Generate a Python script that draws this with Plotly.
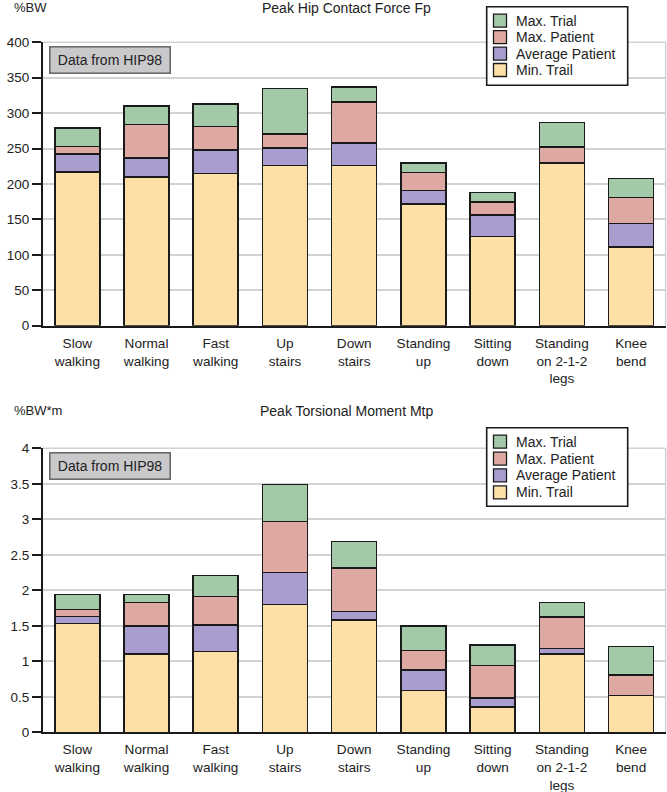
import plotly.graph_objects as go

W, H = 667, 792

categories = ["Slow<br>walking", "Normal<br>walking", "Fast<br>walking", "Up<br>stairs",
              "Down<br>stairs", "Standing<br>up", "Sitting<br>down",
              "Standing<br>on 2-1-2<br>legs", "Knee<br>bend"]

# Peak Hip Contact Force Fp (%BW) - cumulative levels
fp_min_trail = [217, 210, 215, 226, 226, 172, 126, 230, 111]
fp_avg_patient = [242, 237, 248, 251, 258, 191, 156, 230, 144]
fp_max_patient = [253, 284, 281, 271, 316, 216, 175, 252, 181]
fp_max_trial = [279, 310, 313, 335, 337, 230, 188, 287, 208]

# Peak Torsional Moment Mtp (%BW*m) - cumulative levels
mt_min_trail = [1.53, 1.10, 1.14, 1.80, 1.58, 0.59, 0.36, 1.10, 0.52]
mt_avg_patient = [1.63, 1.50, 1.51, 2.25, 1.70, 0.88, 0.48, 1.18, 0.52]
mt_max_patient = [1.73, 1.83, 1.91, 2.97, 2.31, 1.15, 0.94, 1.62, 0.81]
mt_max_trial = [1.94, 1.94, 2.21, 3.49, 2.69, 1.50, 1.23, 1.83, 1.21]

series_names = ["Min. Trail", "Average Patient", "Max. Patient", "Max. Trial"]
colors = ["#fce0a8", "#a99ccf", "#dea9a2", "#a4c9a8"]

FONT = "Liberation Sans, Arial, Helvetica, sans-serif"
TXT = "#222222"
EDGE = "#1a1a1a"

def px(x):
    return x / W

def py(y):
    return 1 - y / H

def diffs(levels):
    out = [levels[0]]
    for i in range(1, len(levels)):
        out.append([max(0, a - b) for a, b in zip(levels[i], levels[i - 1])])
    return out

fig = go.Figure()

x_idx = list(range(len(categories)))

panels = [
    dict(levels=[fp_min_trail, fp_avg_patient, fp_max_patient, fp_max_trial], xa="x", ya="y"),
    dict(levels=[mt_min_trail, mt_avg_patient, mt_max_patient, mt_max_trial], xa="x2", ya="y2"),
]

for p in panels:
    parts = diffs(p["levels"])
    for name, col, vals in zip(series_names, colors, parts):
        fig.add_trace(go.Bar(
            x=x_idx, y=vals, name=name, xaxis=p["xa"], yaxis=p["ya"],
            showlegend=False, width=0.65,
            marker=dict(color=col, line=dict(color=EDGE, width=1.6)),
            hoverinfo="y",
        ))

xdom = [px(42.7), px(665.7)]
top_dom = [py(325.7), py(42.3)]
bot_dom = [py(732.3), py(448.3)]

def xaxis(anchor):
    return dict(domain=xdom, anchor=anchor, range=[-0.5, 8.5], tickmode="array",
                tickvals=x_idx, ticktext=categories, ticks="", automargin=False,
                ticklabelstandoff=4,
                showgrid=False, zeroline=False, showline=True, linecolor=EDGE, linewidth=1.6,
                tickfont=dict(family=FONT, size=13.6, color=TXT))

def yaxis(anchor, dom, rng, dt):
    return dict(domain=dom, anchor=anchor, range=rng, dtick=dt, automargin=False,
                ticks="outside", ticklen=9, tickwidth=1.6, tickcolor=EDGE,
                showgrid=True, gridcolor="#d2d2d2", gridwidth=1.6, zeroline=False,
                showline=True, linecolor=EDGE, linewidth=1.6,
                tickfont=dict(family=FONT, size=13.5, color=TXT))

fig.update_layout(
    width=W, height=H,
    margin=dict(l=0, r=0, t=0, b=0),
    paper_bgcolor="white", plot_bgcolor="white",
    barmode="stack", bargap=0.35,
    font=dict(family=FONT, size=13, color=TXT),
    showlegend=False,
    xaxis=xaxis("y"),
    yaxis=yaxis("x", top_dom, [0, 400], 50),
    xaxis2=xaxis("y2"),
    yaxis2=yaxis("x2", bot_dom, [0, 4], 0.5),
)

shapes = []
annots = []
legend_order = list(zip(series_names, colors))[::-1]
for (y0, y1, leg_top, leg_rows) in [(42.3, 325.7, 6.7, [20.7, 37.2, 53.6, 70.0]),
                                    (448.3, 732.3, 427.7, [441.7, 458.6, 475.4, 492.3])]:
    # grey right border and top border of plot area
    shapes.append(dict(type="line", xref="paper", yref="paper", x0=px(665.7), x1=px(665.7),
                       y0=py(y0), y1=py(y1), line=dict(color="#d2d2d2", width=1.6), layer="below"))
    shapes.append(dict(type="line", xref="paper", yref="paper", x0=px(42.7), x1=px(665.7),
                       y0=py(y0), y1=py(y0), line=dict(color="#d2d2d2", width=1.6), layer="below"))
    # legend box
    shapes.append(dict(type="rect", xref="paper", yref="paper", x0=px(486.7), x1=px(627.7),
                       y0=py(leg_top), y1=py(leg_top + 78.6), fillcolor="white",
                       line=dict(color=EDGE, width=1.6), layer="above"))
    for (name, col), ry in zip(legend_order, leg_rows):
        shapes.append(dict(type="rect", xref="paper", yref="paper", x0=px(493.5), x1=px(506.5),
                           y0=py(ry + 6.5), y1=py(ry - 6.5), fillcolor=col,
                           line=dict(color=EDGE, width=1.3), layer="above"))
        annots.append(dict(xref="paper", yref="paper", x=px(513.5), y=py(ry), xanchor="left",
                           yanchor="middle", text=name, showarrow=False,
                           font=dict(family=FONT, size=14, color=TXT)))

for ybox, unit, title, ty in [(45.7, "%BW", "Peak Hip Contact Force Fp", 7.5),
                              (452.3, "%BW*m", "Peak Torsional Moment Mtp", 410.7)]:
    annots.append(dict(xref="paper", yref="paper", x=px(49), y=py(ybox), xanchor="left", yanchor="top",
                       text="Data from HIP98", showarrow=False, width=117, height=23,
                       bgcolor="#c9c9cb", bordercolor="#6a6a6a", borderwidth=1.6, borderpad=1,
                       font=dict(family=FONT, size=14, color=TXT)))
    annots.append(dict(xref="paper", yref="paper", x=px(11.5), y=py(ty), xanchor="left", yanchor="middle",
                       text=unit, showarrow=False, font=dict(family=FONT, size=13, color=TXT)))
    annots.append(dict(xref="paper", yref="paper", x=px(346.5), y=py(ty), xanchor="center", yanchor="middle",
                       text=title, showarrow=False, font=dict(family=FONT, size=14, color=TXT)))

fig.update_layout(shapes=shapes, annotations=annots)

fig.write_html(
    "out.html",
    config={"displayModeBar": False},
    post_script="document.body.style.margin='0';document.body.style.padding='0';"
                "document.body.style.overflow='hidden';",
)
